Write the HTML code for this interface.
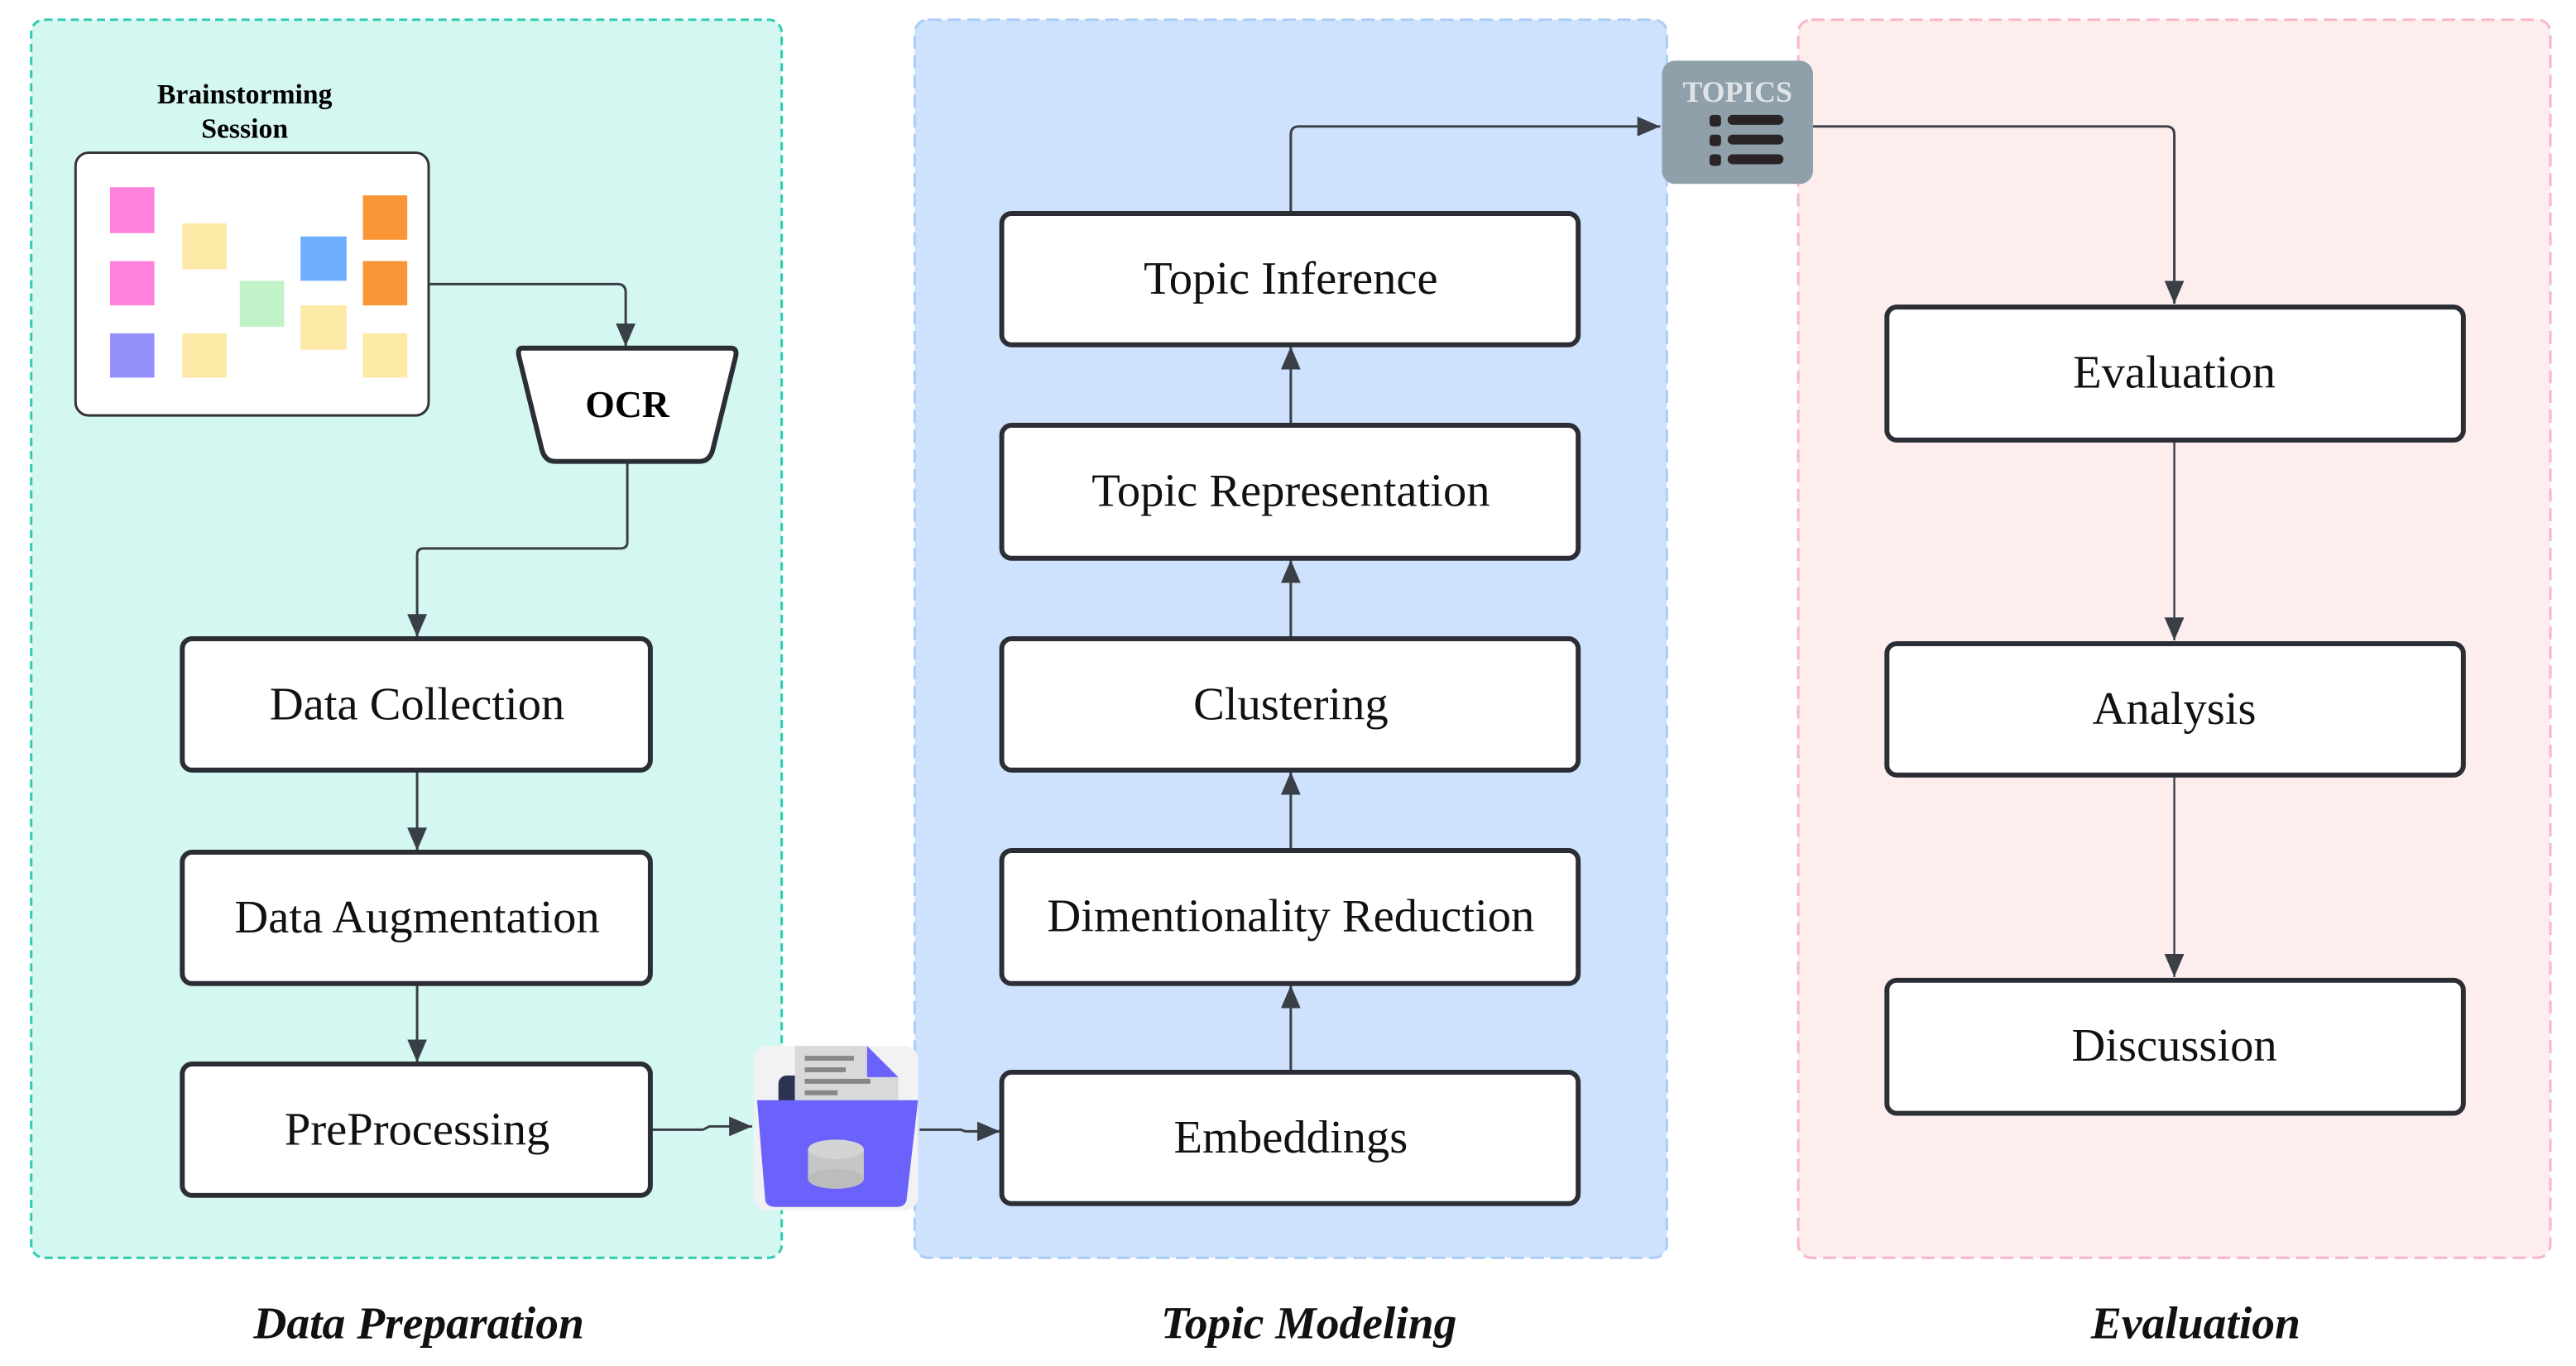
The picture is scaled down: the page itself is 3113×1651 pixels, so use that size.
<!DOCTYPE html>
<html><head><meta charset="utf-8"><style>html,body{margin:0;padding:0;background:#fff}svg{display:block}</style></head>
<body>
<svg width="3113" height="1651" viewBox="0 0 1568.6 831.9" preserveAspectRatio="none" xmlns="http://www.w3.org/2000/svg" font-family="Liberation Serif, serif">
<defs>
<marker id="ah" markerWidth="14" markerHeight="12" refX="14" refY="6" orient="auto" markerUnits="userSpaceOnUse">
<path d="M0,0 L14,6 L0,12 Z" fill="#3a3f47"/></marker>
</defs>
<rect width="1568.6" height="831.9" fill="#fff"/>
<rect x="19" y="12" width="457" height="754" rx="8" fill="#d5f7f1" stroke="#2ecbb0" stroke-width="1.5" stroke-dasharray="5,3"/>
<rect x="557" y="12" width="458" height="754" rx="8" fill="#cfe2fd" stroke="#a9cdf7" stroke-width="1.5" stroke-dasharray="8,4"/>
<rect x="1095" y="12" width="458" height="754" rx="8" fill="#fdeded" stroke="#f7b6cc" stroke-width="1.5" stroke-dasharray="8,4"/>

<text x="149" y="63" font-size="17" font-weight="bold" text-anchor="middle">Brainstorming</text>
<text x="149" y="84" font-size="17" font-weight="bold" text-anchor="middle">Session</text>
<rect x="46" y="93" width="215" height="160" rx="8" fill="#fff" stroke="#333" stroke-width="1.5"/>
<g>
<rect x="67" y="114" width="27" height="28" fill="#ff82dc"/>
<rect x="111" y="136" width="27" height="28" fill="#fde9a6"/>
<rect x="67" y="159" width="27" height="27" fill="#ff82dc"/>
<rect x="146" y="171" width="27" height="28" fill="#c2f2c8"/>
<rect x="183" y="144" width="28" height="27" fill="#6eaefc"/>
<rect x="221" y="119" width="27" height="27" fill="#f99535"/>
<rect x="221" y="159" width="27" height="27" fill="#f99535"/>
<rect x="67" y="203" width="27" height="27" fill="#9590fb"/>
<rect x="111" y="203" width="27" height="27" fill="#fde9a6"/>
<rect x="183" y="186" width="28" height="27" fill="#fde9a6"/>
<rect x="221" y="203" width="27" height="27" fill="#fde9a6"/>
</g>
<g fill="none" stroke="#3a3f47" stroke-width="1.5">
<path d="M261,173 H376 Q381,173 381,178 V211" marker-end="url(#ah)"/>
<path d="M382,281 V330 Q382,334 378,334 H258 Q254,334 254,338 V388" marker-end="url(#ah)"/>
<path d="M254,470 V518" marker-end="url(#ah)"/>
<path d="M254,600 V647" marker-end="url(#ah)"/>
<path d="M396,688 H428 L432,686 H458" marker-end="url(#ah)"/>
<path d="M560,688 H585 L588,689 H609" marker-end="url(#ah)"/>
<path d="M786,653 V600" marker-end="url(#ah)"/>
<path d="M786,518 V470" marker-end="url(#ah)"/>
<path d="M786,389 V341" marker-end="url(#ah)"/>
<path d="M786,259 V211" marker-end="url(#ah)"/>
<path d="M786,130 V82 Q786,77 791,77 H1011" marker-end="url(#ah)"/>
<path d="M1104,77 H1319 Q1324,77 1324,82 V185" marker-end="url(#ah)"/>
<path d="M1324,268 V390" marker-end="url(#ah)" stroke-width="1.2"/>
<path d="M1324,473 V595" marker-end="url(#ah)" stroke-width="1.2"/>
</g>
<path d="M318,212 H445 Q449,212 448,217 L434,274 Q432,281 426,281 H338 Q332,281 330,274 L316,217 Q315,212 318,212 Z" fill="#fff" stroke="#2b2f35" stroke-width="3"/>
<text x="382" y="254" font-size="23" font-weight="bold" text-anchor="middle">OCR</text>

<g fill="#fff" stroke="#2b2f35" stroke-width="3">
<rect x="111" y="389" width="285" height="80" rx="6"/>
<rect x="111" y="519" width="285" height="80" rx="6"/>
<rect x="111" y="648" width="285" height="80" rx="6"/>
<rect x="610" y="130" width="351" height="80" rx="6"/>
<rect x="610" y="259" width="351" height="81" rx="6"/>
<rect x="610" y="389" width="351" height="80" rx="6"/>
<rect x="610" y="518" width="351" height="81" rx="6"/>
<rect x="610" y="653" width="351" height="80" rx="6"/>
<rect x="1149" y="187" width="351" height="81" rx="6"/>
<rect x="1149" y="392" width="351" height="80" rx="6"/>
<rect x="1149" y="597" width="351" height="81" rx="6"/>
</g>
<g font-size="28.5" text-anchor="middle" fill="#111">
<text x="254" y="438">Data Collection</text>
<text x="254" y="568">Data Augmentation</text>
<text x="254" y="697">PreProcessing</text>
<text x="786" y="179">Topic Inference</text>
<text x="786" y="308">Topic Representation</text>
<text x="786" y="438">Clustering</text>
<text x="786" y="567">Dimentionality Reduction</text>
<text x="786" y="702">Embeddings</text>
<text x="1324" y="236">Evaluation</text>
<text x="1324" y="441">Analysis</text>
<text x="1324" y="646">Discussion</text>
</g>

<rect x="459" y="637" width="100" height="100" rx="8" fill="#f2f2f4"/>
<rect x="474" y="655" width="16" height="40" rx="5" fill="#2b3350"/>
<rect x="529" y="660" width="16" height="35" rx="5" fill="#2b3350"/>
<path d="M484,637 H528 L547,656 V675 H484 Z" fill="#d9d9dc"/>
<path d="M528,637 L547,656 H528 Z" fill="#6a62fb"/>
<g fill="#888"><rect x="490" y="643" width="30" height="3"/><rect x="490" y="650" width="25" height="3"/><rect x="490" y="657" width="40" height="3"/><rect x="490" y="664" width="20" height="3"/></g>
<path d="M461,670 H559 L552,731 Q551,735 546,735 H472 Q467,735 466,731 Z" fill="#6a62fb"/>
<rect x="492" y="700" width="34" height="18" fill="#c6c6c6"/>
<ellipse cx="509" cy="718" rx="17" ry="6" fill="#bcbcbc"/>
<ellipse cx="509" cy="700" rx="17" ry="6" fill="#d4d4d4"/>

<rect x="1012" y="37" width="92" height="75" rx="8" fill="#8fa0aa"/>
<text x="1058" y="62" font-size="18" font-weight="bold" text-anchor="middle" fill="#dfe3e6">TOPICS</text>
<g fill="#2a2426">
<rect x="1041" y="70" width="7" height="7" rx="2"/>
<rect x="1052" y="70" width="34" height="6" rx="3"/>
<rect x="1041" y="82" width="7" height="7" rx="2"/><rect x="1052" y="82" width="34" height="6" rx="3"/>
<rect x="1041" y="94" width="7" height="7" rx="2"/><rect x="1052" y="94" width="34" height="6" rx="3"/>
</g>

<g font-size="28" font-weight="bold" font-style="italic" text-anchor="middle" fill="#111">
<text x="255" y="815">Data Preparation</text>
<text x="797" y="815">Topic Modeling</text>
<text x="1337" y="815">Evaluation</text>
</g>
</svg>
</body></html>
